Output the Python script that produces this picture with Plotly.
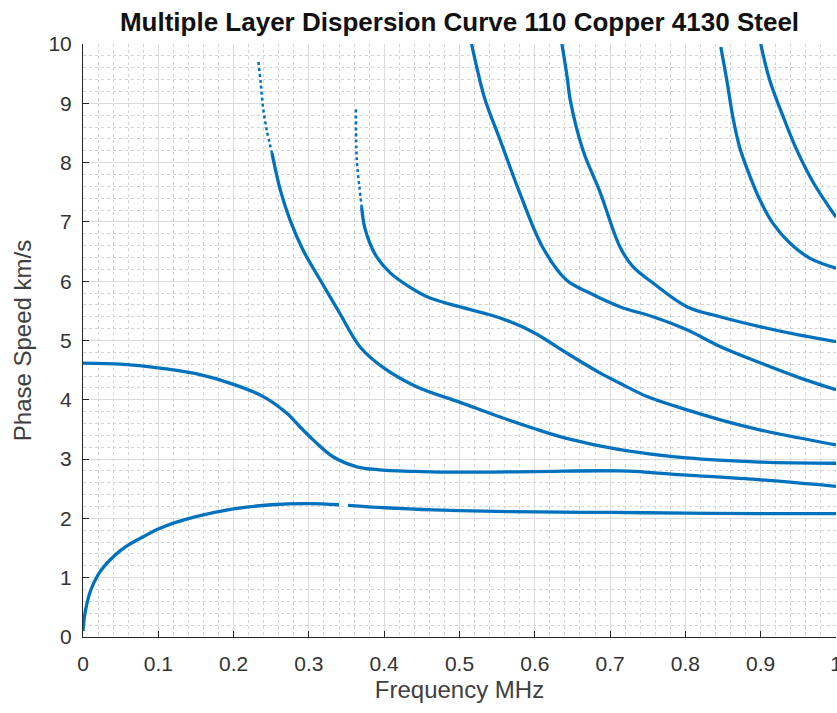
import plotly.graph_objects as go

# Mode data: frequency (MHz) and phase speed (km/s)
mode_a_f = [0, 0.002, 0.005, 0.01, 0.02, 0.03, 0.04, 0.05, 0.06, 0.08, 0.1, 0.12, 0.15, 0.2, 0.25, 0.3, 0.34,
            None, 0.352, 0.4, 0.45, 0.5, 0.6, 0.7, 0.8, 0.9, 1.0]
mode_a_v = [0.1, 0.35, 0.55, 0.78, 1.05, 1.22, 1.35, 1.46, 1.55, 1.69, 1.82, 1.92, 2.03, 2.16, 2.23, 2.25, 2.23,
            None, 2.22, 2.18, 2.15, 2.13, 2.11, 2.1, 2.09, 2.08, 2.08]

mode_b_f = [0, 0.05, 0.1, 0.15, 0.2, 0.24, 0.27, 0.29, 0.306, 0.332, 0.364, 0.394, 0.45, 0.5, 0.6, 0.713, 0.802, 0.9, 1.0]
mode_b_v = [4.62, 4.6, 4.54, 4.44, 4.26, 4.05, 3.78, 3.52, 3.32, 3.04, 2.87, 2.82, 2.79, 2.78, 2.79, 2.8, 2.73, 2.65, 2.54]

mode_c_f = [0.233, 0.236, 0.239, 0.244, 0.251, 0.262, 0.275, 0.292, 0.315, 0.341, 0.368, 0.398, 0.443, 0.5, 0.554, 0.598, 0.642, 0.709, 0.802, 0.9, 1.0]
mode_c_v = [9.7, 9.34, 8.94, 8.55, 8.16, 7.54, 7.03, 6.53, 6.02, 5.46, 4.89, 4.55, 4.22, 3.96, 3.71, 3.52, 3.35, 3.17, 3.02, 2.95, 2.93]

mode_d_f = [0.3625, 0.363, 0.364, 0.367, 0.37, 0.374, 0.381, 0.39, 0.408, 0.434, 0.46, 0.5, 0.554, 0.598, 0.642, 0.687, 0.713, 0.75, 0.802, 0.85, 0.9, 0.95, 1.0]
mode_d_v = [8.9, 8.25, 7.96, 7.6, 7.25, 6.91, 6.64, 6.41, 6.14, 5.9, 5.72, 5.57, 5.38, 5.14, 4.79, 4.45, 4.28, 4.05, 3.83, 3.65, 3.49, 3.36, 3.24]

mode_e_f = [0.516, 0.524, 0.534, 0.554, 0.58, 0.611, 0.642, 0.673, 0.713, 0.757, 0.802, 0.846, 0.9, 0.952, 1.0]
mode_e_v = [10.0, 9.55, 9.06, 8.38, 7.49, 6.56, 6.02, 5.8, 5.57, 5.4, 5.18, 4.9, 4.62, 4.37, 4.17]

mode_f_f = [0.636, 0.643, 0.647, 0.664, 0.687, 0.713, 0.73, 0.757, 0.802, 0.846, 0.9, 0.952, 1.0]
mode_f_v = [10.0, 9.44, 9.06, 8.21, 7.49, 6.58, 6.25, 5.97, 5.57, 5.4, 5.23, 5.09, 4.98]

mode_g_f = [0.847, 0.855, 0.863, 0.872, 0.886, 0.899, 0.916, 0.939, 0.965, 1.0]
mode_g_v = [9.95, 9.39, 8.77, 8.26, 7.76, 7.37, 6.98, 6.64, 6.39, 6.22]

mode_h_f = [0.9, 0.912, 0.93, 0.948, 0.97, 1.0]
mode_h_v = [10.0, 9.39, 8.77, 8.21, 7.66, 7.08]

# index where each curve turns from sparse dots into a dense line
modes = [
    (mode_a_f, mode_a_v, 0), (mode_b_f, mode_b_v, 0), (mode_c_f, mode_c_v, 4), (mode_d_f, mode_d_v, 4),
    (mode_e_f, mode_e_v, 0), (mode_f_f, mode_f_v, 0), (mode_g_f, mode_g_v, 0), (mode_h_f, mode_h_v, 0),
]

x_ticks = [0, 0.1, 0.2, 0.3, 0.4, 0.5, 0.6, 0.7, 0.8, 0.9, 1]
x_tick_text = ["0", "0.1", "0.2", "0.3", "0.4", "0.5", "0.6", "0.7", "0.8", "0.9", "1"]
y_ticks = list(range(0, 11))

COLOR = "#0072BD"
FONT = "Liberation Sans, Arial, Helvetica"
fig = go.Figure()
for fx, vy, k in modes:
    if k > 0:
        fig.add_trace(go.Scatter(x=fx[:k + 1], y=vy[:k + 1], mode="lines",
                                 line=dict(color=COLOR, width=2.5, dash="dot", shape="spline", smoothing=1.0),
                                 showlegend=False, hoverinfo="x+y"))
    fig.add_trace(go.Scatter(x=fx[k:], y=vy[k:], mode="lines",
                             line=dict(color=COLOR, width=3.3, shape="spline", smoothing=1.0),
                             connectgaps=False, showlegend=False, hoverinfo="x+y"))

axis_common = dict(
    showline=True, linecolor="#262626", linewidth=1, mirror=False,
    ticks="inside", ticklen=6, tickcolor="#262626",
    showgrid=True, gridcolor="#dcdcdc", gridwidth=1,
    zeroline=False, automargin=False, ticklabeloverflow="allow",
    tickfont=dict(family=FONT, size=21, color="#333333"),
)

fig.update_layout(
    width=837, height=713,
    margin=dict(l=83, r=1, t=44, b=76),
    paper_bgcolor="white", plot_bgcolor="white",
    title=dict(text="<b>Multiple Layer Dispersion Curve 110 Copper 4130 Steel</b>",
               x=(83 + 836) / 2 / 837, xanchor="center", y=1 - 22 / 713, yanchor="middle",
               font=dict(family=FONT, size=26, color="#111111")),
    xaxis=dict(range=[0, 1], tickvals=x_ticks, ticktext=x_tick_text, ticklabelstandoff=8,
               title=dict(text="Frequency MHz", font=dict(family=FONT, size=24, color="#404040"), standoff=6),
               minor=dict(dtick=0.02, showgrid=True, gridcolor="#d4d4d4", griddash="dot", gridwidth=1, ticks=""),
               **axis_common),
    yaxis=dict(range=[0, 10], tickvals=y_ticks, ticklabelstandoff=6,
               title=dict(text="Phase Speed km/s", font=dict(family=FONT, size=24, color="#404040"), standoff=10),
               minor=dict(dtick=0.2, showgrid=True, gridcolor="#d4d4d4", griddash="dot", gridwidth=1, ticks=""),
               **axis_common),
)

fig.write_html("out.html", config={"displayModeBar": False},
               post_script="document.body.style.margin='0';document.body.style.overflow='hidden';")
